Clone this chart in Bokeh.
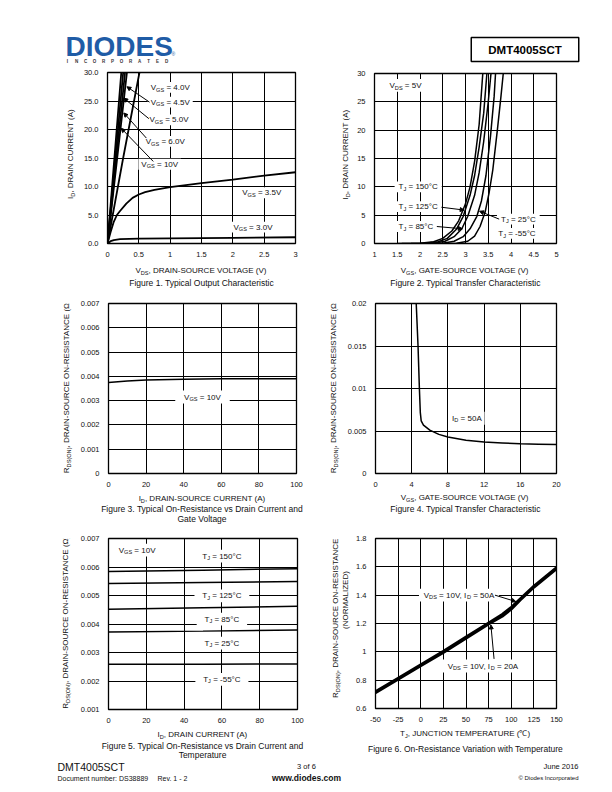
import math
import re
from bokeh.plotting import figure
from bokeh.layouts import column, row
from bokeh.models import (Label, Arrow, NormalHead, FixedTicker,
                          CustomJSTickFormatter, Range1d, BoxAnnotation)
from bokeh.embed import file_html
from bokeh.resources import INLINE

FONT = "Liberation Sans"
INK = "#111111"

# ---------------- Figure 1: typical output characteristic ----------------
f1_xticks = [0, 0.5, 1, 1.5, 2, 2.5, 3]
f1_yticks = [0, 5, 10, 15, 20, 25, 30]
f1_id_steep = [0, 15, 30, 32]
f1_vds_10v = [0, 0.11, 0.22, 0.235]
f1_vds_6v = [0, 0.125, 0.25, 0.27]
f1_vds_5v = [0, 0.14, 0.28, 0.30]
f1_vds_45v = [0, 0.155, 0.31, 0.33]
f1_vds_4v = [0, 0.25, 0.51, 0.545]
f1_vds_35v = [0, 0.05, 0.1, 0.15, 0.2, 0.3, 0.4, 0.5, 0.6, 0.75, 1.0, 1.5, 2.0, 2.5, 3.0]
f1_id_35v = [0, 2.0, 3.8, 5.0, 5.7, 7.0, 8.0, 8.6, 9.0, 9.4, 9.9, 10.6, 11.2, 11.9, 12.5]
f1_vds_3v = [0, 0.05, 0.1, 0.2, 0.5, 1.0, 2.0, 3.0]
f1_id_3v = [0, 0.4, 0.6, 0.75, 0.85, 0.9, 1.0, 1.1]
f1_labels = ["V_{GS} = 4.0V", "V_{GS} = 4.5V", "V_{GS} = 5.0V", "V_{GS} = 6.0V",
             "V_{GS} = 10V", "V_{GS} = 3.5V", "V_{GS} = 3.0V"]
f1_label_x = [0.69, 0.69, 0.67, 0.61, 0.54, 2.15, 2.01]
f1_label_y = [27.4, 24.8, 21.7, 17.9, 13.9, 8.9, 2.86]
f1_ptr_x0 = [0.67, 0.66, 0.62, 0.73]
f1_ptr_y0 = [24.8, 21.9, 18.5, 14.4]
f1_ptr_x1 = [0.31, 0.26, 0.26, 0.22]
f1_ptr_y1 = [27.5, 25.5, 22.9, 20.2]

# ---------------- Figure 2: typical transfer characteristic ----------------
f2_xticks = [1, 1.5, 2, 2.5, 3, 3.5, 4, 4.5, 5]
f2_yticks = [0, 5, 10, 15, 20, 25, 30]
f2_vgs_150 = [1.5, 2.0, 2.3, 2.5, 2.7, 2.85, 3.0, 3.1, 3.2, 3.3, 3.38]
f2_id_150 = [0, 0.05, 0.3, 0.9, 2.2, 4.0, 7.0, 10, 14.5, 21, 30]
f2_vgs_125 = [1.6, 2.1, 2.4, 2.6, 2.8, 2.95, 3.1, 3.2, 3.3, 3.4, 3.47]
f2_id_125 = [0, 0.05, 0.3, 0.9, 2.5, 4.8, 8.5, 12, 17, 23, 30]
f2_vgs_85 = [1.8, 2.3, 2.55, 2.75, 2.92, 3.05, 3.2, 3.3, 3.4, 3.5, 3.56]
f2_id_85 = [0, 0.05, 0.4, 1.2, 2.6, 4.8, 8.5, 12.5, 18, 25, 30]
f2_vgs_25 = [2.0, 2.5, 2.75, 2.95, 3.1, 3.25, 3.35, 3.45, 3.55, 3.63, 3.66]
f2_id_25 = [0, 0.05, 0.4, 1.2, 2.6, 4.8, 7.5, 12, 19, 26, 30]
f2_vgs_m55 = [2.4, 2.8, 3.05, 3.2, 3.32, 3.43, 3.52, 3.6, 3.7, 3.78, 3.83]
f2_id_m55 = [0, 0.05, 0.4, 1.3, 3.0, 5.5, 9, 13, 20, 26, 30]
f2_labels = ["T_{J} = 150°C", "T_{J} = 125°C", "T_{J} = 85°C", "T_{J} = 25°C", "T_{J} = -55°C"]
f2_label_x = [1.53, 1.53, 1.53, 3.78, 3.72]
f2_label_y = [10.0, 6.5, 3.0, 4.3, 1.8]
f2_ptr_x0 = [2.47, 2.37, 3.74]
f2_ptr_y0 = [6.4, 3.0, 4.3]
f2_ptr_x1 = [2.97, 2.93, 3.31]
f2_ptr_y1 = [5.9, 2.6, 5.7]

# ---------------- Figure 3: on-resistance vs drain current ----------------
f3_xticks = [0, 20, 40, 60, 80, 100]
f3_yticks = [0, 0.001, 0.002, 0.003, 0.004, 0.005, 0.006, 0.007]
f3_id = [0, 10, 20, 40, 60, 80, 100]
f3_rds = [0.00375, 0.00381, 0.00385, 0.00388, 0.0039, 0.0039, 0.0039]

# ---------------- Figure 4: on-resistance vs gate voltage ----------------
f4_xticks = [0, 4, 8, 12, 16, 20]
f4_yticks = [0, 0.005, 0.01, 0.015, 0.02]
f4_vgs = [4.5, 4.7, 4.85, 4.95, 5.05, 5.3, 6, 7, 8, 10, 12, 14, 16, 18, 20]
f4_rds = [0.02, 0.015, 0.01, 0.0072, 0.0062, 0.0057, 0.0051, 0.0046, 0.0043,
          0.0039, 0.0037, 0.0036, 0.0035, 0.00345, 0.0034]

# ---------------- Figure 5: on-resistance vs drain current and temperature ----
f5_xticks = [0, 20, 40, 60, 80, 100]
f5_yticks = [0.001, 0.002, 0.003, 0.004, 0.005, 0.006, 0.007]
f5_id = [0, 50, 100]
f5_r150 = [0.00584, 0.00589, 0.00594]
f5_r125 = [0.00542, 0.00546, 0.00549]
f5_r85 = [0.00452, 0.00457, 0.00462]
f5_r25 = [0.00372, 0.00375, 0.00379]
f5_rm55 = [0.00259, 0.00259, 0.0026]
f5_labels = ["T_{J} = 150°C", "T_{J} = 125°C", "T_{J} = 85°C", "T_{J} = 25°C", "T_{J} = -55°C"]
f5_label_y = [0.00638, 0.00499, 0.00417, 0.00333, 0.00206]

# ---------------- Figure 6: on-resistance vs temperature ----------------
f6_xticks = [-50, -25, 0, 25, 50, 75, 100, 125, 150]
f6_yticks = [0.6, 0.8, 1.0, 1.2, 1.4, 1.6, 1.8]
f6_tj = [-50, -25, 0, 25, 50, 75, 90, 100, 110, 125, 150]
f6_r50a = [0.72, 0.815, 0.91, 1.005, 1.105, 1.205, 1.265, 1.315, 1.375, 1.465, 1.595]
f6_r20a = [0.71, 0.805, 0.9, 0.995, 1.095, 1.195, 1.25, 1.3, 1.365, 1.455, 1.585]

# ---------------- text helpers ----------------
HELV = {' ': 278, ',': 278, '-': 333, '.': 278, '(': 333, ')': 333, '=': 584, ':': 278,
        'A': 667, 'B': 667, 'C': 722, 'D': 722, 'E': 667, 'F': 611, 'G': 778, 'H': 722,
        'I': 278, 'J': 500, 'K': 667, 'L': 556, 'M': 833, 'N': 722, 'O': 778, 'P': 667,
        'Q': 778, 'R': 722, 'S': 667, 'T': 611, 'U': 722, 'V': 667, 'W': 944, 'X': 667,
        'Y': 667, 'Z': 611, 'a': 556, 'b': 556, 'c': 500, 'd': 556, 'e': 556, 'f': 278,
        'g': 556, 'h': 556, 'i': 222, 'j': 222, 'k': 500, 'l': 222, 'm': 833, 'n': 556,
        'o': 556, 'p': 556, 'q': 556, 'r': 333, 's': 500, 't': 278, 'u': 556, 'v': 500,
        'w': 722, 'x': 500, 'y': 500, 'z': 500, '°': 400, 'Ω': 768, '℃': 1000, '©': 737}


def text_width(s, size):
    return sum(HELV.get(c, 556) for c in s) * size / 1000.0


def parse(s):
    parts = re.split(r"_\{([^}]*)\}", s)
    return [(t, i % 2 == 1) for i, t in enumerate(parts) if t]


SCALE = {}


def rich(p, x, y, s, size=8.0, align="center", rotate=False, dx=0.0, dy=0.0,
         box=None, bold=False, color=INK):
    segs = parse(s)
    angle = math.pi / 2 if rotate else 0.0
    style = "bold" if bold else "normal"
    if len(segs) == 1 and not segs[0][1] and box is None:
        p.add_layout(Label(x=x, y=y, x_offset=dx, y_offset=dy, text=s, text_font=FONT,
                           text_font_size=f"{size}px", text_font_style=style,
                           text_color=color, text_align=align, text_baseline="middle",
                           angle=angle))
        return
    sub = round(size * 0.7, 1)
    sizes = [sub if b else size for _, b in segs]
    widths = [text_width(t, z) for (t, _), z in zip(segs, sizes)]
    total = sum(widths)
    start = {"left": 0.0, "center": -total / 2.0, "right": -total}[align]
    if box is not None:
        padx, pady = box
        sx, sy = SCALE[id(p)]
        cx = x + (dx + start + total / 2.0) / sx
        cy = y + dy / sy
        hw = (total / 2.0 + padx) / sx
        hh = (size * 0.55 + pady) / sy
        p.add_layout(BoxAnnotation(left=cx - hw, right=cx + hw, bottom=cy - hh, top=cy + hh,
                                   fill_color="white", fill_alpha=1.0, line_color=None))
    pos = start
    for (t, is_sub), z, w in zip(segs, sizes, widths):
        lead = len(t) - len(t.lstrip(" "))
        body = t.strip(" ")
        off = pos + text_width(" " * lead, z)
        if body:
            shift = -2.2 if is_sub else 0.0
            if rotate:
                xo, yo = dx - shift, dy + off
            else:
                xo, yo = dx + off, dy + shift
            p.add_layout(Label(x=x, y=y, x_offset=xo, y_offset=yo, text=body, text_font=FONT,
                               text_font_size=f"{z}px", text_font_style=style,
                               text_color=color, text_align="left", text_baseline="middle",
                               angle=angle))
        pos += w


GEN = "return String(parseFloat(tick.toFixed(6)));"


def chart(w, h, left, right, top, bottom, xr, yr, xticks, yticks, yfmt=GEN):
    fw = w - left - right
    fh = h - top - bottom
    p = figure(width=w, height=h, x_range=Range1d(xr[0], xr[1]), y_range=Range1d(yr[0], yr[1]),
               min_border_left=left, min_border_right=right, min_border_top=top,
               min_border_bottom=bottom, output_backend="svg", toolbar_location=None, tools="")
    SCALE[id(p)] = (fw / (xr[1] - xr[0]), fh / (yr[1] - yr[0]))
    p.background_fill_color = "white"
    p.border_fill_color = "white"
    p.outline_line_color = "black"
    p.outline_line_width = 1.3
    xt = FixedTicker(ticks=xticks)
    yt = FixedTicker(ticks=yticks)
    p.xaxis.ticker = xt
    p.yaxis.ticker = yt
    p.xgrid.ticker = xt
    p.ygrid.ticker = yt
    p.xaxis.formatter = CustomJSTickFormatter(code=GEN)
    p.yaxis.formatter = CustomJSTickFormatter(code=yfmt)
    for ax in p.axis:
        ax.axis_line_color = None
        ax.major_tick_line_color = None
        ax.minor_tick_line_color = None
        ax.major_tick_in = 0
        ax.major_tick_out = 0
        ax.minor_tick_in = 0
        ax.minor_tick_out = 0
        ax.major_label_text_font = FONT
        ax.major_label_text_font_size = "7.5px"
        ax.major_label_text_color = INK
    p.xaxis.major_label_standoff = 8
    p.yaxis.major_label_standoff = 9
    for g in p.grid:
        g.grid_line_color = "black"
        g.grid_line_width = 1
    return p


def arrows(p, x0, y0, x1, y1):
    for a, b, c, d in zip(x0, y0, x1, y1):
        p.add_layout(Arrow(x_start=a, y_start=b, x_end=c, y_end=d, line_color="black",
                           line_width=1,
                           end=NormalHead(size=4, fill_color="black", line_color="black")))


def tfig(w, h):
    # text-only panel; x and y measured in pixels from its top-left corner
    p = figure(width=w, height=h, x_range=Range1d(0, w), y_range=Range1d(h, 0),
               min_border_left=0, min_border_right=0, min_border_top=0, min_border_bottom=0,
               output_backend="svg", toolbar_location=None, tools="",
               x_axis_location=None, y_axis_location=None)
    p.grid.visible = False
    p.outline_line_color = None
    p.background_fill_color = "white"
    p.border_fill_color = "white"
    return p


# ---------------- header ----------------
hdr = tfig(604, 66)
hdr.add_layout(Label(x=65, y=45.5, text="DIODES", text_font=FONT, text_font_size="28px",
                     text_font_style="bold", text_color="#1f5ca6", text_baseline="middle"))
hdr.add_layout(Label(x=171, y=53, text="®", text_font=FONT, text_font_size="5px",
                     text_color="#1f5ca6", text_baseline="middle"))
for i, ch in enumerate("INCORPORATED"):
    hdr.add_layout(Label(x=67 + i * 9.0, y=61, text=ch, text_font=FONT, text_font_size="4.5px",
                         text_font_style="bold", text_color="#333333", text_align="center",
                         text_baseline="middle"))
hdr.add_layout(Label(x=524.5, y=49, text="DMT4005SCT", text_font=FONT, text_font_size="11.5px",
                     text_font_style="bold", text_color="black", text_align="center",
                     text_baseline="middle", border_line_color="black", border_line_width=1.5,
                     padding=(17, 6)))

# ---------------- figure 1 ----------------
y1 = tfig(80, 197)
p1 = chart(240, 197, 27, 25, 6, 20, (0, 3), (0, 30), f1_xticks, f1_yticks,
           "return tick.toFixed(1);")
b1 = tfig(320, 29)
for vx, vy in [(f1_vds_10v, f1_id_steep), (f1_vds_6v, f1_id_steep), (f1_vds_5v, f1_id_steep),
               (f1_vds_45v, f1_id_steep), (f1_vds_4v, f1_id_steep),
               (f1_vds_35v, f1_id_35v), (f1_vds_3v, f1_id_3v)]:
    p1.line(vx, vy, line_color="black", line_width=1.8)
for t, lx, ly in zip(f1_labels, f1_label_x, f1_label_y):
    rich(p1, lx, ly, t, align="left", box=(3, 1))
arrows(p1, f1_ptr_x0, f1_ptr_y0, f1_ptr_x1, f1_ptr_y1)
rich(b1, 201, 7, "V_{DS}, DRAIN-SOURCE VOLTAGE (V)")
rich(b1, 201, 19, "Figure 1. Typical Output Characteristic", size=8.5)
rich(y1, 70, 94, "I_{D}, DRAIN CURRENT (A)", rotate=True)

# ---------------- figure 2 ----------------
y2 = tfig(32, 197)
p2 = chart(252, 197, 22, 48, 7, 20, (1, 5), (0, 30), f2_xticks, f2_yticks)
b2 = tfig(284, 29)
for vx, vy in [(f2_vgs_150, f2_id_150), (f2_vgs_125, f2_id_125), (f2_vgs_85, f2_id_85),
               (f2_vgs_25, f2_id_25), (f2_vgs_m55, f2_id_m55)]:
    p2.line(vx, vy, line_color="black", line_width=1.5)
rich(p2, 1.33, 27.9, "V_{DS} = 5V", align="left", box=(3, 2))
for t, lx, ly in zip(f2_labels, f2_label_x, f2_label_y):
    rich(p2, lx, ly, t, align="left", box=(4, 1))
arrows(p2, f2_ptr_x0, f2_ptr_y0, f2_ptr_x1, f2_ptr_y1)
rich(b2, 145, 7, "V_{GS}, GATE-SOURCE VOLTAGE (V)")
rich(b2, 145, 19, "Figure 2. Typical Transfer Characteristic", size=8.5)
rich(y2, 25, 94, "I_{D}, DRAIN CURRENT (A)", rotate=True)

# ---------------- figure 3 ----------------
y3 = tfig(77, 199)
p3 = chart(243, 199, 30, 24, 11, 18, (0, 100), (0, 0.007), f3_xticks, f3_yticks)
b3 = tfig(320, 36)
p3.line(f3_id, f3_rds, line_color="black", line_width=1.5)
rich(p3, 50, 0.00315, "V_{GS} = 10V", box=(9, 2))
rich(b3, 201.5, 7, "I_{D}, DRAIN-SOURCE CURRENT (A)")
rich(b3, 201.5, 17, "Figure 3. Typical On-Resistance vs Drain Current and", size=8.5)
rich(b3, 201.5, 27, "Gate Voltage", size=8.5)
rich(y3, 66, 97, "R_{DS(ON)}, DRAIN-SOURCE ON-RESISTANCE (Ω)", rotate=True)

# ---------------- figure 4 ----------------
y4 = tfig(24, 199)
p4 = chart(260, 199, 30, 48, 11, 18, (0, 20), (0, 0.02), f4_xticks, f4_yticks)
b4 = tfig(284, 36)
p4.line(f4_vgs, f4_rds, line_color="black", line_width=1.5)
rich(p4, 10.1, 0.0065, "I_{D} = 50A", box=(3, 2))
rich(b4, 145, 6, "V_{GS}, GATE-SOURCE VOLTAGE (V)")
rich(b4, 145, 17, "Figure 4. Typical Transfer Characteristic", size=8.5)
rich(y4, 13, 97, "R_{DS(ON)}, DRAIN-SOURCE ON-RESISTANCE (Ω)", rotate=True)

# ---------------- figure 5 ----------------
y5 = tfig(77, 199)
p5 = chart(243, 199, 30, 23, 11, 17, (0, 100), (0.001, 0.007), f5_xticks, f5_yticks)
b5 = tfig(320, 34)
for r in [f5_r150, f5_r125, f5_r85, f5_r25, f5_rm55]:
    p5.line(f5_id, r, line_color="black", line_width=1.5)
rich(p5, 5.4, 0.00659, "V_{GS} = 10V", align="left", box=(3, 2))
for t, ly in zip(f5_labels, f5_label_y):
    rich(p5, 60, ly, t, box=(8, 2))
rich(b5, 202, 8, "I_{D}, DRAIN CURRENT (A)")
rich(b5, 202, 19, "Figure 5. Typical On-Resistance vs Drain Current and", size=8.5)
rich(b5, 202, 28.5, "Temperature", size=8.5)
rich(y5, 65, 97, "R_{DS(ON)}, DRAIN-SOURCE ON-RESISTANCE (Ω)", rotate=True)

# ---------------- figure 6 ----------------
y6 = tfig(33, 199)
p6 = chart(251, 199, 21, 48, 11, 18, (-50, 150), (0.6, 1.8), f6_xticks, f6_yticks)
b6 = tfig(284, 34)
p6.line(f6_tj, f6_r50a, line_color="black", line_width=2.6)
p6.line(f6_tj, f6_r20a, line_color="black", line_width=2.6)
rich(p6, 42.3, 1.40, "V_{DS} = 10V, I_{D} = 50A", box=(5, 2))
rich(p6, 68.7, 0.90, "V_{DS} = 10V, I_{D} = 20A", box=(5, 2))
arrows(p6, [82, 81], [1.40, 0.95], [105, 77.5], [1.355, 1.19])
rich(b6, 145, 7, "T_{J}, JUNCTION TEMPERATURE (℃)")
rich(b6, 145, 22, "Figure 6. On-Resistance Variation with Temperature", size=8.5)
rich(y6, 15, 93, "R_{DS(ON)}, DRAIN-SOURCE ON-RESISTANCE", rotate=True)
rich(y6, 25, 72, "(NORMALIZED)", rotate=True)

# ---------------- footer ----------------
ftr = tfig(604, 28)
ftr.add_layout(Label(x=57, y=6, text="DMT4005SCT", text_font=FONT, text_font_size="10.5px",
                     text_color=INK, text_baseline="middle"))
ftr.add_layout(Label(x=57, y=18, text="Document number: DS38889", text_font=FONT,
                     text_font_size="7px", text_color=INK, text_baseline="middle"))
ftr.add_layout(Label(x=157, y=18, text="Rev. 1 - 2", text_font=FONT,
                     text_font_size="7px", text_color=INK, text_baseline="middle"))
ftr.add_layout(Label(x=306, y=6, text="3 of 6", text_font=FONT, text_font_size="7.5px",
                     text_color=INK, text_align="center", text_baseline="middle"))
ftr.add_layout(Label(x=306, y=17, text="www.diodes.com", text_font=FONT, text_font_size="8.5px",
                     text_font_style="bold", text_color=INK, text_align="center",
                     text_baseline="middle"))
ftr.add_layout(Label(x=578, y=6, text="June 2016", text_font=FONT, text_font_size="7.5px",
                     text_color=INK, text_align="right", text_baseline="middle"))
ftr.add_layout(Label(x=578, y=17, text="© Diodes Incorporated", text_font=FONT,
                     text_font_size="6px", text_color=INK, text_align="right",
                     text_baseline="middle"))


def cell(yf, pf, bf):
    return column(row(yf, pf, spacing=0), bf, spacing=0)


page = column(hdr,
              row(cell(y1, p1, b1), cell(y2, p2, b2), spacing=0),
              row(cell(y3, p3, b3), cell(y4, p4, b4), spacing=0),
              row(cell(y5, p5, b5), cell(y6, p6, b6), spacing=0),
              ftr, spacing=0)
open("out.html", "w").write(file_html(page, INLINE))
